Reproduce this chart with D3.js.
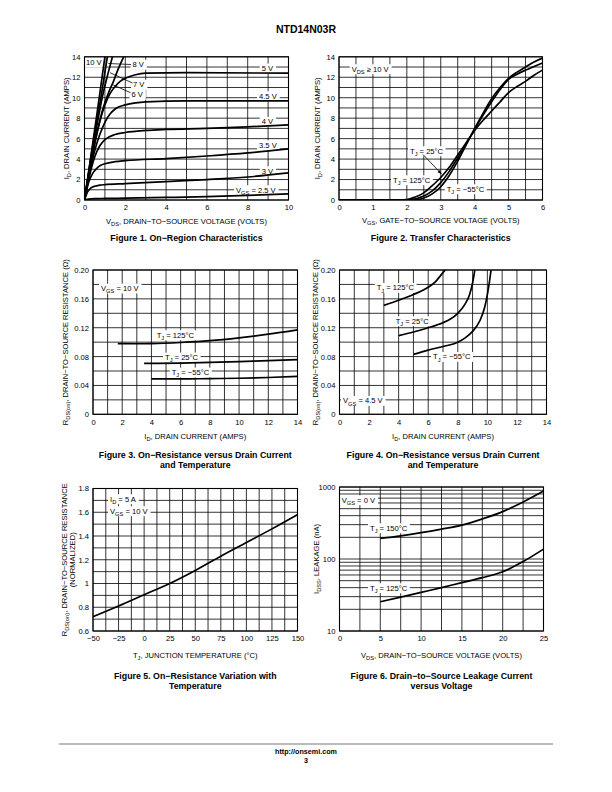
<!DOCTYPE html>
<html><head><meta charset="utf-8">
<script src="https://cdn.jsdelivr.net/npm/d3@7"></script>
<style>
body{margin:0;background:#fff}
svg{display:block}
text{font-family:"Liberation Sans",Arial,Helvetica,sans-serif;fill:#000}
</style>
</head><body>
<svg id="page" width="612" height="792"></svg>
<script>
// ================= DATA =================
// Figure 1: ID (A) vs VDS (V), per VGS
const fig1Vgs10 = [[0,0],[0.25,3.4],[0.5,6.9],[0.75,10.4],[1.0,14]];
const fig1Vgs8  = [[0,0],[0.3,4.0],[0.6,7.6],[0.9,11.2],[1.12,14]];
const fig1Vgs7  = [[0,0],[0.3,3.8],[0.6,7.2],[0.9,10.3],[1.17,12.5],[1.37,14]];
const fig1Vgs6  = [[0,0],[0.3,3.4],[0.6,6.4],[0.9,8.9],[1.2,10.6],[1.4,11.5],[1.65,12.8],[1.92,14]];
const fig1Vgs5  = [[0,0],[0.25,3.0],[0.5,5.6],[0.75,7.7],[1,9.3],[1.25,10.4],[1.5,11.1],[1.75,11.6],[2,11.9],[2.5,12.25],[3,12.4],[5,12.45],[10,12.4]];
const fig1Vgs45 = [[0,0],[0.25,2.6],[0.5,4.8],[0.75,6.4],[1,7.6],[1.25,8.4],[1.5,8.9],[2,9.3],[2.5,9.5],[3,9.6],[5,9.7],[10,9.7]];
const fig1Vgs4  = [[0,0],[0.25,2.4],[0.5,4.2],[0.75,5.3],[1,5.9],[1.5,6.4],[2,6.6],[3,6.8],[4,6.9],[6,7.0],[8,7.15],[10,7.35]];
const fig1Vgs35 = [[0,0],[0.2,1.7],[0.4,2.6],[0.6,3.1],[0.8,3.4],[1,3.55],[1.5,3.75],[2,3.85],[4,4.05],[6,4.3],[8,4.6],[10,5.0]];
const fig1Vgs3  = [[0,0],[0.15,0.8],[0.3,1.15],[0.5,1.35],[0.75,1.45],[1,1.5],[2,1.6],[4,1.8],[6,2.0],[8,2.25],[10,2.65]];
const fig1Vgs25 = [[0,0],[0.2,0.08],[0.5,0.13],[1,0.15],[2,0.18],[4,0.25],[6,0.33],[8,0.45],[10,0.6]];
const fig1XTicks = [0,2,4,6,8,10];
const fig1YTicks = [0,2,4,6,8,10,12,14];

// Figure 2: ID (A) vs VGS (V), per TJ
const fig2T125 = [[0,0],[1.5,0],[2,0.05],[2.25,0.3],[2.5,0.7],[2.75,1.4],[3,2.2],[3.25,3.2],[3.5,4.4],[3.75,5.6],[4,6.8],[4.25,7.8],[4.5,8.7],[4.75,9.6],[5,10.5],[5.25,11.1],[5.5,11.6],[5.75,12.2],[6,12.7]];
const fig2T25  = [[0,0],[1.75,0],[2.1,0.05],[2.5,0.4],[2.75,0.9],[3,1.7],[3.25,2.8],[3.5,4.1],[3.75,5.5],[4,6.9],[4.25,8.3],[4.5,9.6],[4.75,10.8],[5,11.8],[5.25,12.3],[5.5,12.7],[5.75,13.05],[6,13.4]];
const fig2Tm55 = [[0,0],[2,0],[2.3,0.05],[2.5,0.2],[2.75,0.6],[3,1.3],[3.25,2.4],[3.5,3.8],[3.75,5.4],[4,7.0],[4.25,8.5],[4.5,9.9],[4.75,11.0],[5,11.9],[5.25,12.5],[5.5,13.0],[5.75,13.5],[6,13.87]];
const fig2XTicks = [0,1,2,3,4,5,6];
const fig2YTicks = [0,2,4,6,8,10,12,14];

// Figure 3: RDS(on) (ohm) vs ID (A), VGS = 10 V
const fig3T125 = [[1.7,0.098],[3,0.0978],[4,0.098],[6,0.0995],[8,0.102],[10,0.106],[12,0.111],[14,0.117]];
const fig3T25  = [[3.5,0.0705],[6,0.071],[8,0.072],[10,0.073],[12,0.0745],[14,0.0757]];
const fig3Tm55 = [[4,0.049],[6,0.049],[8,0.0495],[10,0.050],[12,0.051],[14,0.0525]];
const fig34XTicks = [0,2,4,6,8,10,12,14];
const fig34YTicks = [0,0.04,0.08,0.12,0.16,0.20];
const fig34YLabels = ["0","0.04","0.08","0.12","0.16","0.20"];

// Figure 4: RDS(on) (ohm) vs ID (A), VGS = 4.5 V
const fig4T125 = [[3,0.151],[4,0.158],[5,0.166],[6,0.176],[6.5,0.184],[6.9,0.194],[7.15,0.2]];
const fig4T25  = [[4,0.109],[5,0.114],[6,0.12],[7,0.127],[7.5,0.132],[8,0.14],[8.5,0.153],[8.8,0.166],[9.0,0.182],[9.15,0.2]];
const fig4Tm55 = [[5,0.083],[6,0.089],[7,0.094],[8,0.100],[8.5,0.106],[9,0.115],[9.5,0.13],[9.8,0.147],[10.0,0.166],[10.15,0.185],[10.25,0.2]];

// Figure 5: normalized RDS(on) vs TJ
const fig5Rds = [[-50,0.72],[-25,0.81],[0,0.905],[25,1.0],[50,1.11],[75,1.23],[100,1.345],[125,1.46],[150,1.58]];
const fig5XTicks = [-50,-25,0,25,50,75,100,125,150];
const fig5XLabels = ["\u221250","\u221225","0","25","50","75","100","125","150"];
const fig5YTicks = [0.6,0.8,1,1.2,1.4,1.6,1.8];
const fig5YLabels = ["0.6","0.8","1","1.2","1.4","1.6","1.8"];

// Figure 6: IDSS (nA) vs VDS (V)
const fig6T150 = [[5,193],[7.5,210],[10,232],[12.5,260],[15,295],[17.5,360],[20,455],[22.5,620],[25,880]];
const fig6T125 = [[5,25.5],[7.5,29.5],[10,34.4],[12.5,40],[15,47],[17.5,55],[20,66.5],[22.5,92],[25,137]];
const fig6XTicks = [0,5,10,15,20,25];
const fig6YTicks = [10,100,1000];

// ================= DRAWING =================
const svg = d3.select('#page');
const FS = 7.6;

function rich(t, str, fs){
  const parts = str.split(/(_\{[^}]*\})/);
  let shift = 0;
  parts.forEach(p => {
    if (!p) return;
    if (p.startsWith('_{')) {
      t.append('tspan').attr('font-size', fs*0.75).attr('dy', fs*0.3).text(p.slice(2,-1));
      shift = fs*0.3;
    } else {
      const s = t.append('tspan').text(p);
      if (shift) { s.attr('dy', -shift); shift = 0; }
    }
  });
  return t;
}

function boxLabel(g, x, cy, str, fs){
  fs = fs || FS;
  const t = g.append('text').attr('x', x).attr('y', cy + fs*0.36).attr('font-size', fs);
  rich(t, str, fs);
  const b = t.node().getBBox();
  g.insert('rect', () => t.node())
    .attr('x', b.x - 2).attr('y', cy - fs*0.62).attr('width', b.width + 4).attr('height', fs*1.3)
    .attr('fill', '#fff');
  return t;
}

function panel(c){
  const g = svg.append('g');
  const x = d3.scaleLinear().domain(c.xd).range([c.l, c.r]);
  const y = (c.log ? d3.scaleLog() : d3.scaleLinear()).domain(c.yd).range([c.b, c.t]);
  const id = 'clip' + Math.random().toString(36).slice(2);
  svg.append('clipPath').attr('id', id).append('rect')
    .attr('x', c.l).attr('y', c.t).attr('width', c.r - c.l).attr('height', c.b - c.t);
  // grid
  g.append('g').selectAll('line').data(c.xg).join('line')
    .attr('x1', d => x(d)).attr('x2', d => x(d)).attr('y1', c.t).attr('y2', c.b)
    .attr('stroke', '#000').attr('stroke-width', 0.8);
  g.append('g').selectAll('line').data(c.yg).join('line')
    .attr('y1', d => y(d)).attr('y2', d => y(d)).attr('x1', c.l).attr('x2', c.r)
    .attr('stroke', '#000').attr('stroke-width', 0.8);
  // axes
  const ax = g.append('g').attr('transform', `translate(0,${c.b})`)
    .call(d3.axisBottom(x).tickValues(c.xt).tickFormat((d,i) => c.xl ? c.xl[i] : d).tickSize(0).tickPadding(5));
  const ay = g.append('g').attr('transform', `translate(${c.l},0)`)
    .call(d3.axisLeft(y).tickValues(c.yt).tickFormat((d,i) => c.yl ? c.yl[i] : d).tickSize(0).tickPadding(4));
  [ax, ay].forEach(a => {
    a.select('.domain').remove();
    a.attr('font-family', null).attr('font-size', null);
    a.selectAll('text').attr('font-size', FS).attr('fill', '#000');
  });
  // titles
  const cx = (c.l + c.r) / 2, cyy = (c.t + c.b) / 2;
  rich(g.append('text').attr('x', cx).attr('y', c.xty).attr('text-anchor', 'middle').attr('font-size', FS), c.xTitle, FS);
  c.yTitle.forEach((s, i) => {
    rich(g.append('text').attr('transform', `translate(${c.ytx[i]},${cyy}) rotate(-90)`)
      .attr('text-anchor', 'middle').attr('font-size', FS), s, FS);
  });
  c.caption.forEach((s, i) => {
    g.append('text').attr('x', cx).attr('y', c.capy + i*10).attr('text-anchor', 'middle')
      .attr('font-size', 8.8).attr('font-weight', 'bold').text(s);
  });
  // labels (under curves)
  const lab = g.append('g');
  (c.labels || []).forEach(L => boxLabel(lab, L[0], L[1], L[2]));
  (c.leaders || []).forEach(Ld => {
    lab.append('line').attr('x1', Ld[0]).attr('y1', Ld[1]).attr('x2', Ld[2]).attr('y2', Ld[3])
      .attr('stroke', '#000').attr('stroke-width', 0.8);
    if (Ld[4]) {
      const ang = Math.atan2(Ld[3]-Ld[1], Ld[2]-Ld[0]);
      const L = 4, w = 1.6;
      const p = [[Ld[2], Ld[3]],
        [Ld[2] - L*Math.cos(ang) + w*Math.sin(ang), Ld[3] - L*Math.sin(ang) - w*Math.cos(ang)],
        [Ld[2] - L*Math.cos(ang) - w*Math.sin(ang), Ld[3] - L*Math.sin(ang) + w*Math.cos(ang)]];
      lab.append('path').attr('d', 'M' + p.join('L') + 'Z').attr('fill', '#000');
    }
  });
  // curves
  const line = d3.line().x(d => x(d[0])).y(d => y(d[1])).curve(d3.curveMonotoneX);
  const cg = g.append('g').attr('clip-path', `url(#${id})`);
  c.series.forEach(s => {
    cg.append('path').attr('d', line(s)).attr('fill', 'none')
      .attr('stroke', '#000').attr('stroke-width', 1.7).attr('stroke-linejoin', 'round');
  });
  // frame
  g.append('rect').attr('x', c.l).attr('y', c.t).attr('width', c.r - c.l).attr('height', c.b - c.t)
    .attr('fill', 'none').attr('stroke', '#000').attr('stroke-width', 1.1);
  return {x, y};
}

// Header
svg.append('text').attr('x', 306).attr('y', 33).attr('text-anchor', 'middle')
  .attr('font-size', 10.5).attr('font-weight', 'bold').text('NTD14N03R');

// Figure 1
panel({
  l: 84.5, r: 288.5, t: 56.8, b: 200, xd: [0,10], yd: [0,14],
  xg: d3.range(0, 11, 1), yg: d3.range(0, 15, 1),
  xt: fig1XTicks, yt: fig1YTicks,
  xTitle: 'V_{DS}, DRAIN\u2212TO\u2212SOURCE VOLTAGE (VOLTS)', xty: 224,
  yTitle: ['I_{D}, DRAIN CURRENT (AMPS)'], ytx: [69],
  caption: ['Figure 1. On\u2212Region Characteristics'], capy: 241,
  series: [fig1Vgs10, fig1Vgs8, fig1Vgs7, fig1Vgs6, fig1Vgs5, fig1Vgs45, fig1Vgs4, fig1Vgs35, fig1Vgs3, fig1Vgs25],
  labels: [[86,62.5,'10 V'],[132.5,64.5,'8 V'],[133,84.5,'7 V'],[131.5,94.5,'6 V'],
           [261.7,68.3,'5 V'],[259,96,'4.5 V'],[261.7,121.7,'4 V'],[259,145,'3.5 V'],
           [261.7,171,'3 V'],[236,190,'V_{GS} = 2.5 V']],
  leaders: [[108.3,63.5,131,64.5],[110,72.7,132.5,83],[112.7,84.7,130.5,92.7]]
});

// Figure 2
panel({
  l: 339, r: 542.5, t: 56.8, b: 200, xd: [0,6], yd: [0,14],
  xg: d3.range(0, 6.01, 0.5), yg: d3.range(0, 15, 1),
  xt: fig2XTicks, yt: fig2YTicks,
  xTitle: 'V_{GS}, GATE\u2212TO\u2212SOURCE VOLTAGE (VOLTS)', xty: 223,
  yTitle: ['I_{D}, DRAIN CURRENT (AMPS)'], ytx: [320],
  caption: ['Figure 2. Transfer Characteristics'], capy: 241,
  series: [fig2T125, fig2T25, fig2Tm55],
  labels: [[351.7,69,'V_{DS} \u2265 10 V'],[410,151,'T_{J} = 25\u00B0C'],[393,180,'T_{J} = 125\u00B0C'],[446.7,189,'T_{J} = \u221255\u00B0C']],
  leaders: [[423,154.5,441.5,174,true]]
});

// Figure 3
panel({
  l: 93, r: 297.5, t: 270, b: 414.3, xd: [0,14], yd: [0,0.2],
  xg: d3.range(0, 15, 1), yg: d3.range(0, 0.2001, 0.02),
  xt: fig34XTicks, yt: fig34YTicks, yl: fig34YLabels,
  xTitle: 'I_{D}, DRAIN CURRENT (AMPS)', xty: 439,
  yTitle: ['R_{DS(on)}, DRAIN\u2212TO\u2212SOURCE RESISTANCE (\u03A9)'], ytx: [67.5],
  caption: ['Figure 3. On\u2212Resistance versus Drain Current', 'and Temperature'], capy: 458,
  series: [fig3T125, fig3T25, fig3Tm55],
  labels: [[101,288.3,'V_{GS} = 10 V'],[156.7,335,'T_{J} = 125\u00B0C'],[165,357.3,'T_{J} = 25\u00B0C'],[171.7,372.3,'T_{J} = \u221255\u00B0C']]
});

// Figure 4
panel({
  l: 339.5, r: 546.5, t: 270, b: 414.3, xd: [0,14], yd: [0,0.2],
  xg: d3.range(0, 15, 1), yg: d3.range(0, 0.2001, 0.02),
  xt: fig34XTicks, yt: fig34YTicks, yl: fig34YLabels,
  xTitle: 'I_{D}, DRAIN CURRENT (AMPS)', xty: 439,
  yTitle: ['R_{DS(on)}, DRAIN\u2212TO\u2212SOURCE RESISTANCE (\u03A9)'], ytx: [317.5],
  caption: ['Figure 4. On\u2212Resistance versus Drain Current', 'and Temperature'], capy: 458,
  series: [fig4T125, fig4T25, fig4Tm55],
  labels: [[376.7,287.7,'T_{J} = 125\u00B0C'],[395.7,321,'T_{J} = 25\u00B0C'],[433,356.7,'T_{J} = \u221255\u00B0C'],[343,400.7,'V_{GS} = 4.5 V']]
});

// Figure 5
panel({
  l: 93, r: 297.5, t: 488.5, b: 631, xd: [-50,150], yd: [0.6,1.8],
  xg: d3.range(-50, 150.01, 12.5), yg: d3.range(0.6, 1.8001, 0.1),
  xt: fig5XTicks, xl: fig5XLabels, yt: fig5YTicks, yl: fig5YLabels,
  xTitle: 'T_{J}, JUNCTION TEMPERATURE (\u00B0C)', xty: 658,
  yTitle: ['R_{DS(on)}, DRAIN\u2212TO\u2212SOURCE RESISTANCE', '(NORMALIZED)'], ytx: [67, 75],
  caption: ['Figure 5. On\u2212Resistance Variation with', 'Temperature'], capy: 679,
  series: [fig5Rds],
  labels: [[110,499,'I_{D} = 5 A'],[110,511,'V_{GS} = 10 V']]
});

// Figure 6
const logGrid = [10,20,30,40,50,60,70,80,90,100,200,300,400,500,600,700,800,900,1000];
panel({
  l: 339.5, r: 543.5, t: 487, b: 631, xd: [0,25], yd: [10,1000], log: true,
  xg: d3.range(0, 25.01, 2.5), yg: logGrid,
  xt: fig6XTicks, yt: fig6YTicks,
  xTitle: 'V_{DS}, DRAIN\u2212TO\u2212SOURCE VOLTAGE (VOLTS)', xty: 658,
  yTitle: ['I_{DSS}, LEAKAGE (nA)'], ytx: [319],
  caption: ['Figure 6. Drain\u2212to\u2212Source Leakage Current', 'versus Voltage'], capy: 679,
  series: [fig6T150, fig6T125],
  labels: [[341.7,500,'V_{GS} = 0 V'],[370,528,'T_{J} = 150\u00B0C'],[370,588,'T_{J} = 125\u00B0C']]
});

// Footer
svg.append('line').attr('x1', 59).attr('x2', 553).attr('y1', 744).attr('y2', 744)
  .attr('stroke', '#bbb').attr('stroke-width', 2);
svg.append('text').attr('x', 306).attr('y', 754).attr('text-anchor', 'middle')
  .attr('font-size', 7.2).attr('font-weight', 'bold').text('http://onsemi.com');
svg.append('text').attr('x', 306).attr('y', 763).attr('text-anchor', 'middle')
  .attr('font-size', 7.2).attr('font-weight', 'bold').text('3');
</script>
</body></html>
